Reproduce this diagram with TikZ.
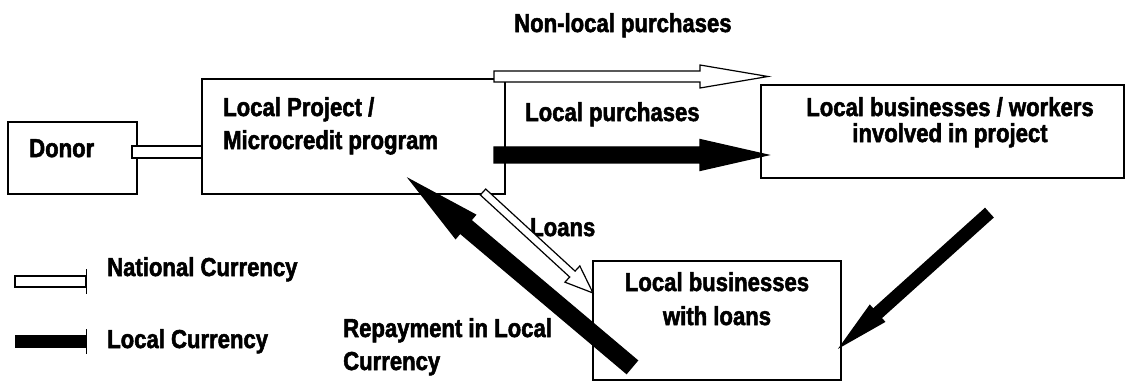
\documentclass[tikz,border=0pt]{standalone}
\usepackage{fontspec}
\setmainfont{Liberation Sans}[FakeStretch=0.85, BoldFeatures={FakeBold=2}]
\usetikzlibrary{calc}

\tikzset{
  box/.style={draw, line width=1.3pt, inner sep=0pt, outer sep=0pt},
  txt/.style={font=\bfseries\fontsize{26}{33}\selectfont, inner sep=0pt},
  natarrow/.style={draw, fill=white, line width=1.2pt, line join=miter},
  locarrow/.style={draw, fill=black, line width=1.2pt, line join=miter},
}

% block arrow: style, tail, tip, half shaft, half head, head length
\newcommand{\blockarrow}[6]{
  \coordinate (neck) at ($(#3)!#6!(#2)$);
  \draw[#1] ($(#2)!#4!90:(#3)$) -- ($(neck)!#4!90:(#3)$) -- ($(neck)!#5!90:(#3)$)
    -- (#3) -- ($(neck)!#5!-90:(#3)$) -- ($(neck)!#4!-90:(#3)$) -- ($(#2)!#4!-90:(#3)$) -- cycle;
}

\begin{document}
\begin{tikzpicture}[x=1pt, y=-1pt]
    \useasboundingbox (0,0) rectangle (1129,382);

    \node[box, minimum width=129pt, minimum height=72pt] (donor) at (72.5,158) {};
    \node[box, minimum width=303pt, minimum height=115pt] (project) at (353.5,136.5) {};
    \node[box, minimum width=363pt, minimum height=93pt] (workers) at (942.5,131.5) {};
    \node[box, minimum width=248pt, minimum height=119pt] (borrowers) at (717,320.5) {};

    \node[txt, anchor=north west] (donortxt) at (29,139) {Donor};
    \node[txt, anchor=north west, align=left] (projecttxt) at (223,97) {Local Project /\\Microcredit program};
    \node[txt, anchor=north, align=center, font=\bfseries\fontsize{26}{26}\selectfont] (workerstxt) at (950,97) {Local businesses / workers\\involved in project};
    \node[txt, anchor=north, align=center, font=\bfseries\fontsize{26}{34}\selectfont] (borrowerstxt) at (717,272) {Local businesses\\with loans};
    \node[txt, anchor=north west] (nonlocal) at (514,13) {Non-local purchases};
    \node[txt, anchor=north west] (localbuy) at (525,102) {Local purchases};
    \node[txt, anchor=north west] (loans) at (530,218) {Loans};
    \node[txt, anchor=north west, align=left] (repay) at (343,318) {Repayment in Local\\Currency};
    \node[txt, anchor=north west] (natkey) at (107,257) {National Currency};
    \node[txt, anchor=north west] (lockey) at (107,329) {Local Currency};

    % arrow ends
    \coordinate (nl1) at (494,76.5);   \coordinate (nl2) at (768,76.5);
    \coordinate (lp1) at (494,155);    \coordinate (lp2) at (768,155);
    \coordinate (ln1) at (483,192);    \coordinate (ln2) at (593,293);
    \coordinate (rp1) at (632,367);    \coordinate (rp2) at (409,179);
    \coordinate (wk1) at (989,213);    \coordinate (wk2) at (840,347);

    \draw[natarrow] ($(donor.east)+(-5,-12)$) rectangle ($(donor.east -| project.west)+(0,0)$);

    \blockarrow{natarrow}{nl1}{nl2}{5.5pt}{11.5pt}{68pt}
    \blockarrow{locarrow}{lp1}{lp2}{8pt}{15.5pt}{68pt}
    \blockarrow{natarrow}{ln1}{ln2}{4pt}{11pt}{28pt}
    \blockarrow{locarrow}{rp1}{rp2}{8.5pt}{15.5pt}{74pt}
    \blockarrow{locarrow}{wk1}{wk2}{6pt}{11pt}{50pt}

    % key
    \draw[natarrow] (15,276) rectangle (86,287);
    \draw[line width=1pt] (86,269) -- (86,294);
    \fill (15,335) rectangle (86,348);
    \draw[line width=1pt] (86,329) -- (86,354);
\end{tikzpicture}
\end{document}
